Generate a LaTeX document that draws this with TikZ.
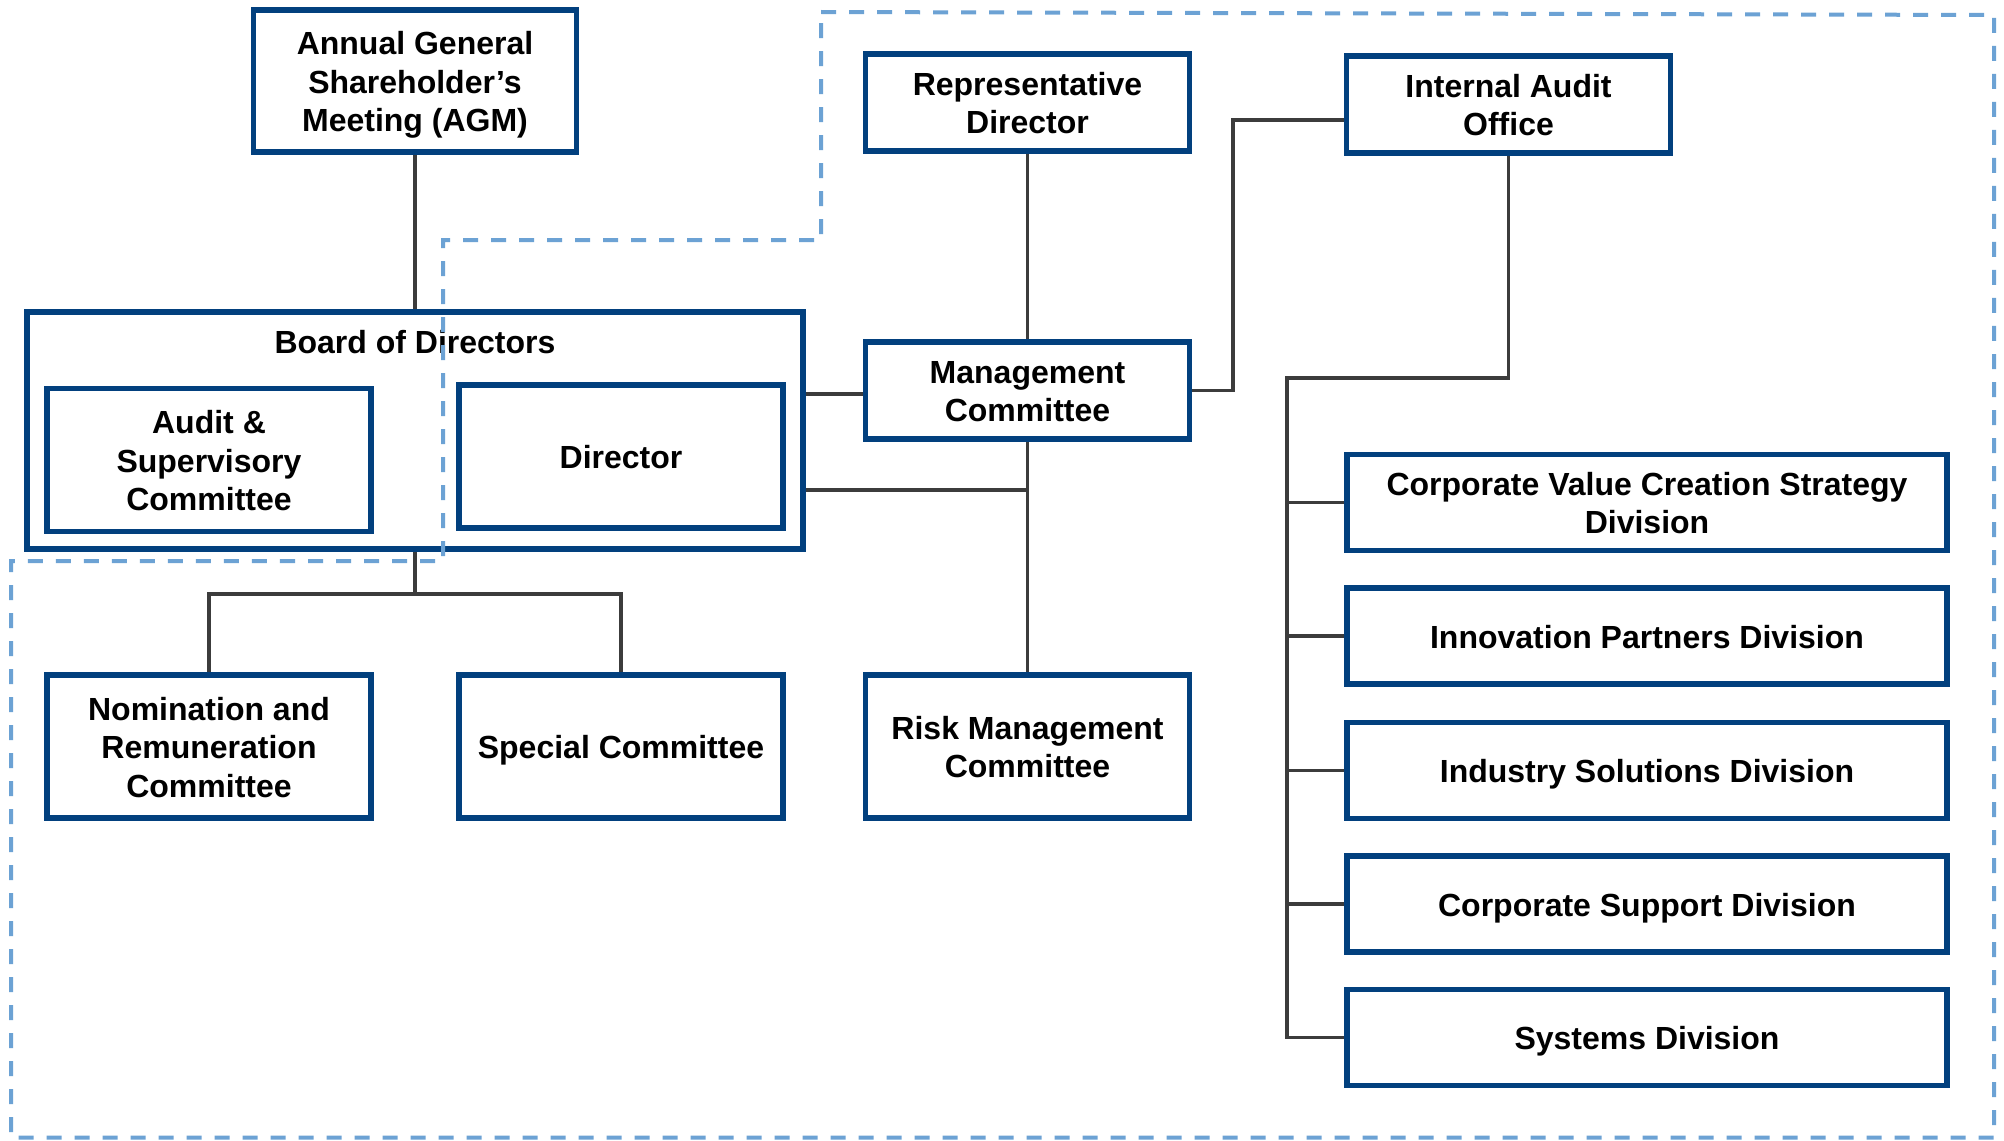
\documentclass[tikz,border=0pt]{standalone}
\usepackage{fontspec}
\setmainfont{Liberation Sans}
\definecolor{boxblue}{HTML}{02407E}
\definecolor{connGray}{HTML}{3C3C3C}
\definecolor{dashBlue}{HTML}{6CA2D4}
\begin{document}
\begin{tikzpicture}[x=1pt,y=-1pt,
  boxfont/.style={font=\bfseries\fontsize{32}{38.5}\selectfont, text height=24pt, text depth=0pt},
  lines2/.style={text height=62.5pt},
  lines3/.style={text height=101pt},
  orgbox/.style={draw=boxblue, line width=5.5pt, fill=white, align=center, inner sep=0pt, boxfont},
  smallbox/.style={orgbox, minimum width=324pt, minimum height=97pt},
  tallbox/.style={orgbox, minimum width=324pt, minimum height=143pt},
  divbox/.style={orgbox, minimum width=600pt, minimum height=96pt},
  conn/.style={draw=connGray, line width=3.2pt},
  dashline/.style={draw=dashBlue, line width=4pt, dash pattern=on 15pt off 13pt}]
\fill[white] (0,0) rectangle (2004,1140);
\useasboundingbox (0,0) rectangle (2004,1140);

% Boxes
\node[orgbox, lines3, minimum width=323pt, minimum height=142pt] (agm) at (415,81) {Annual General\\Shareholder’s\\Meeting (AGM)};
\node[orgbox, minimum width=776pt, minimum height=237pt] (board) at (415,430.5) {};
\node[boxfont, inner sep=0pt] (boardtitle) at (415,341) {Board of Directors};
\node[tallbox, lines3] (audit) at (209,460) {Audit \&\\Supervisory\\Committee};
\node[tallbox] (director) at (621,456.5) {Director};
\node[smallbox, lines2] (rd) at (1027.5,102.5) {Representative\\Director};
\node[smallbox, lines2] (iao) at (1508.5,104.5) {Internal Audit\\Office};
\node[smallbox, lines2] (mc) at (1027.5,390.5) {Management\\Committee};
\node[tallbox, lines3] (nom) at (209,746.5) {Nomination and\\Remuneration\\Committee};
\node[tallbox] (special) at (621,746.5) {Special Committee};
\node[tallbox, lines2] (risk) at (1027.5,746.5) {Risk Management\\Committee};
\node[divbox, lines2] (cvcs) at (1647,502.5) {Corporate Value Creation Strategy\\Division};
\node[divbox] (innov) at (1647,636) {Innovation Partners Division};
\node[divbox] (indus) at (1647,770.5) {Industry Solutions Division};
\node[divbox] (corp) at (1647,904) {Corporate Support Division};
\node[divbox] (sys) at (1647,1037.5) {Systems Division};

% Connectors
\coordinate (bb) at (415,594);
\coordinate (bm) at (0,394);
\coordinate (bj) at (1027.5,490);
\coordinate (iaoin) at (1344,120);
\coordinate (mcturn) at (1233,390.5);
\coordinate (trunktop) at (1287,378);
\coordinate (trunkbot) at (1287,1039);

\draw[conn] (agm.south) -- (agm.south |- board.north);
\draw[conn] (board.south) -- (bb);
\draw[conn] (nom.north) |- (bb) -| (special.north);
\draw[conn] (rd.south) -- (mc.north);
\draw[conn] (mc.south) -- (risk.north);
\draw[conn] (mc.west |- bm) -- (bm -| board.east);
\draw[conn] (bj -| board.east) -- (bj);
\draw[conn] (mc.east) -- (mcturn) |- (iaoin -| iao.west);
\draw[conn] (iao.south) |- (trunktop) -- (trunkbot);
\draw[conn] (cvcs.west) -- (cvcs.west -| trunktop);
\draw[conn] (innov.west) -- (innov.west -| trunktop);
\draw[conn] (indus.west) -- (indus.west -| trunktop);
\draw[conn] (corp.west) -- (corp.west -| trunktop);
\draw[conn] (sys.west) -- (sys.west -| trunktop);

% Dashed outline
\draw[dashline] (821,12) -- (1994,15) -- (1994,1137.5) -- (11,1137.5) -- (11,561) -- (443,561) -- (443,240) -- (821,240) -- cycle;
\end{tikzpicture}
\end{document}
